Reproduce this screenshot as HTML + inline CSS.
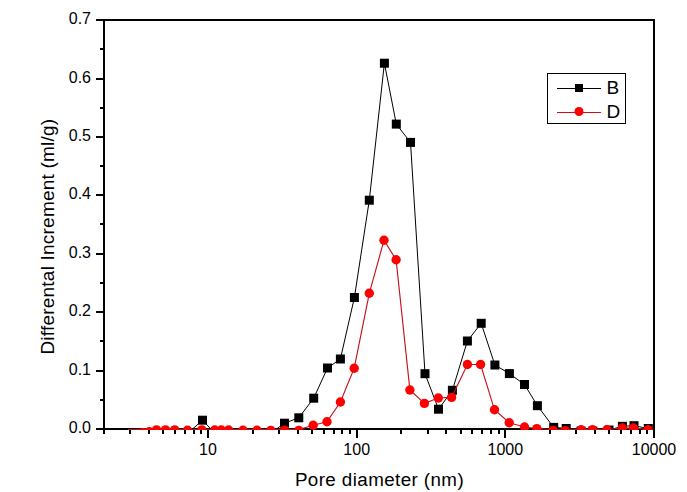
<!DOCTYPE html><html><head><meta charset="utf-8"><style>html,body{margin:0;padding:0;background:#fff;width:687px;height:492px;overflow:hidden}svg{display:block}text{font-family:"Liberation Sans",sans-serif;fill:#000}</style></head><body><svg width="687" height="492" viewBox="0 0 687 492"><defs><clipPath id="c"><rect x="104" y="20" width="550" height="410"/></clipPath></defs><g fill="#000" shape-rendering="crispEdges"><rect x="103" y="19" width="552" height="2"/><rect x="103" y="428" width="552" height="2"/><rect x="103" y="19" width="2" height="411"/><rect x="653" y="19" width="2" height="411"/><rect x="96" y="428" width="7" height="2"/><rect x="96" y="370" width="7" height="2"/><rect x="96" y="311" width="7" height="2"/><rect x="96" y="253" width="7" height="2"/><rect x="96" y="194" width="7" height="2"/><rect x="96" y="136" width="7" height="2"/><rect x="96" y="78" width="7" height="2"/><rect x="96" y="19" width="7" height="2"/><rect x="100" y="399" width="3" height="2"/><rect x="100" y="340" width="3" height="2"/><rect x="100" y="282" width="3" height="2"/><rect x="100" y="223" width="3" height="2"/><rect x="100" y="165" width="3" height="2"/><rect x="100" y="107" width="3" height="2"/><rect x="100" y="48" width="3" height="2"/><rect x="103" y="430" width="2" height="4"/><rect x="129" y="430" width="2" height="4"/><rect x="148" y="430" width="2" height="4"/><rect x="162" y="430" width="2" height="4"/><rect x="174" y="430" width="2" height="4"/><rect x="184" y="430" width="2" height="4"/><rect x="193" y="430" width="2" height="4"/><rect x="200" y="430" width="2" height="4"/><rect x="207" y="430" width="2" height="8"/><rect x="252" y="430" width="2" height="4"/><rect x="278" y="430" width="2" height="4"/><rect x="297" y="430" width="2" height="4"/><rect x="311" y="430" width="2" height="4"/><rect x="323" y="430" width="2" height="4"/><rect x="333" y="430" width="2" height="4"/><rect x="341" y="430" width="2" height="4"/><rect x="349" y="430" width="2" height="4"/><rect x="356" y="430" width="2" height="8"/><rect x="400" y="430" width="2" height="4"/><rect x="427" y="430" width="2" height="4"/><rect x="445" y="430" width="2" height="4"/><rect x="460" y="430" width="2" height="4"/><rect x="471" y="430" width="2" height="4"/><rect x="481" y="430" width="2" height="4"/><rect x="490" y="430" width="2" height="4"/><rect x="498" y="430" width="2" height="4"/><rect x="504" y="430" width="2" height="8"/><rect x="549" y="430" width="2" height="4"/><rect x="575" y="430" width="2" height="4"/><rect x="594" y="430" width="2" height="4"/><rect x="608" y="430" width="2" height="4"/><rect x="620" y="430" width="2" height="4"/><rect x="630" y="430" width="2" height="4"/><rect x="639" y="430" width="2" height="4"/><rect x="646" y="430" width="2" height="4"/><rect x="653" y="430" width="2" height="8"/></g><g font-size="16"><text x="91" y="433" text-anchor="end">0.0</text><text x="91" y="375" text-anchor="end">0.1</text><text x="91" y="316" text-anchor="end">0.2</text><text x="91" y="258" text-anchor="end">0.3</text><text x="91" y="199" text-anchor="end">0.4</text><text x="91" y="141" text-anchor="end">0.5</text><text x="91" y="83" text-anchor="end">0.6</text><text x="91" y="24" text-anchor="end">0.7</text><text x="208.0" y="455" text-anchor="middle">10</text><text x="356.7" y="455" text-anchor="middle">100</text><text x="505.3" y="455" text-anchor="middle">1000</text><text x="654.0" y="455" text-anchor="middle">10000</text></g><text x="379.5" y="485.5" font-size="18.8" letter-spacing="0.41" text-anchor="middle">Pore diameter (nm)</text><text transform="translate(53.8,236.6) rotate(-90)" font-size="19" letter-spacing="0.22" text-anchor="middle">Differental Increment (ml/g)</text><g clip-path="url(#c)"><polyline fill="none" stroke="#000" stroke-width="1" points="188,433 202.5,420.2 214.7,433 221.3,433 228.6,433 243,433 257,433 270.8,433 284.5,423.2 298.8,417.8 313.7,398.2 327.5,368 340.4,359 354.4,297.5 369.3,200.2 384.4,63.2 396.3,124.1 410.5,142.4 425,373.7 438.5,409.2 452.4,390.3 467.4,341 481.2,323.3 494.9,365 509.4,373.6 524.5,384.5 537.4,405.7 553.7,427.4 566.2,428.5 581,431 592.8,431 609,430 622.4,426.3 634,425.7 648.3,428.5"/><g fill="#000"><rect x="183.5" y="428.5" width="9.0" height="9.0"/><rect x="198.0" y="415.7" width="9.0" height="9.0"/><rect x="210.2" y="428.5" width="9.0" height="9.0"/><rect x="216.8" y="428.5" width="9.0" height="9.0"/><rect x="224.1" y="428.5" width="9.0" height="9.0"/><rect x="238.5" y="428.5" width="9.0" height="9.0"/><rect x="252.5" y="428.5" width="9.0" height="9.0"/><rect x="266.3" y="428.5" width="9.0" height="9.0"/><rect x="280.0" y="418.7" width="9.0" height="9.0"/><rect x="294.3" y="413.3" width="9.0" height="9.0"/><rect x="309.2" y="393.7" width="9.0" height="9.0"/><rect x="323.0" y="363.5" width="9.0" height="9.0"/><rect x="335.9" y="354.5" width="9.0" height="9.0"/><rect x="349.9" y="293.0" width="9.0" height="9.0"/><rect x="364.8" y="195.7" width="9.0" height="9.0"/><rect x="379.9" y="58.7" width="9.0" height="9.0"/><rect x="391.8" y="119.6" width="9.0" height="9.0"/><rect x="406.0" y="137.9" width="9.0" height="9.0"/><rect x="420.5" y="369.2" width="9.0" height="9.0"/><rect x="434.0" y="404.7" width="9.0" height="9.0"/><rect x="447.9" y="385.8" width="9.0" height="9.0"/><rect x="462.9" y="336.5" width="9.0" height="9.0"/><rect x="476.7" y="318.8" width="9.0" height="9.0"/><rect x="490.4" y="360.5" width="9.0" height="9.0"/><rect x="504.9" y="369.1" width="9.0" height="9.0"/><rect x="520.0" y="380.0" width="9.0" height="9.0"/><rect x="532.9" y="401.2" width="9.0" height="9.0"/><rect x="549.2" y="422.9" width="9.0" height="9.0"/><rect x="561.7" y="424.0" width="9.0" height="9.0"/><rect x="576.5" y="426.5" width="9.0" height="9.0"/><rect x="588.3" y="426.5" width="9.0" height="9.0"/><rect x="604.5" y="425.5" width="9.0" height="9.0"/><rect x="617.9" y="421.8" width="9.0" height="9.0"/><rect x="629.5" y="421.2" width="9.0" height="9.0"/><rect x="643.8" y="424.0" width="9.0" height="9.0"/></g><polyline fill="none" stroke="#c4121e" stroke-width="1.15" points="128,429.5 142.8,429.5 149.3,429.5 157,429.5 166,429.5 175,429.5 187.5,429.5 201.8,429.5 214.7,429.5 221.3,429.5 228.6,429.5 243,429.5 257,429.5 270.8,429.5 284.5,429.5 298.8,429.5 313.2,425.3 327,421.7 340.4,402 354.2,368.2 369.3,293.3 384,240.2 396.1,259.8 409.9,390 424.4,403.4 438.3,398 451.6,397.4 467.4,364.5 480.6,364.5 494.5,409.8 509.2,422.7 524.5,427 536.8,428.6 553.1,429.5 565.3,429.5 581.2,429.5 592.6,429.5 606.9,429.5 622.3,428 633.5,428 648.1,429.5"/><g fill="#f00"><circle cx="142.8" cy="432.6" r="4.7"/><circle cx="149.3" cy="431.6" r="4.7"/><circle cx="156.5" cy="429.9" r="4.7"/><circle cx="165.5" cy="429.9" r="4.7"/><circle cx="174.7" cy="429.9" r="4.7"/><circle cx="187.5" cy="430.3" r="4.7"/><circle cx="201.8" cy="429.9" r="4.7"/><circle cx="214.7" cy="430" r="4.7"/><circle cx="221.3" cy="430" r="4.7"/><circle cx="228.6" cy="430" r="4.7"/><circle cx="243" cy="430.2" r="4.7"/><circle cx="257" cy="430.2" r="4.7"/><circle cx="270.8" cy="430.4" r="4.7"/><circle cx="284.5" cy="430.2" r="4.7"/><circle cx="298.8" cy="430.4" r="4.7"/><circle cx="313.2" cy="425.3" r="4.7"/><circle cx="327" cy="421.7" r="4.7"/><circle cx="340.4" cy="402" r="4.7"/><circle cx="354.2" cy="368.2" r="4.7"/><circle cx="369.3" cy="293.3" r="4.7"/><circle cx="384" cy="240.2" r="4.7"/><circle cx="396.1" cy="259.8" r="4.7"/><circle cx="409.9" cy="390" r="4.7"/><circle cx="424.4" cy="403.4" r="4.7"/><circle cx="438.3" cy="398" r="4.7"/><circle cx="451.6" cy="397.4" r="4.7"/><circle cx="467.4" cy="364.5" r="4.7"/><circle cx="480.6" cy="364.5" r="4.7"/><circle cx="494.5" cy="409.8" r="4.7"/><circle cx="509.2" cy="422.7" r="4.7"/><circle cx="524.5" cy="427" r="4.7"/><circle cx="536.8" cy="428.6" r="4.7"/><circle cx="553.1" cy="430.4" r="4.7"/><circle cx="565.3" cy="430.8" r="4.7"/><circle cx="581.2" cy="429.7" r="4.7"/><circle cx="592.6" cy="429.7" r="4.7"/><circle cx="606.9" cy="429.8" r="4.7"/><circle cx="622.3" cy="428" r="4.7"/><circle cx="633.5" cy="428" r="4.7"/><circle cx="648.1" cy="429.8" r="4.7"/></g></g><rect x="547.5" y="73.5" width="78" height="50" fill="none" stroke="#000" stroke-width="1"/><line x1="557" y1="88.5" x2="601" y2="88.5" stroke="#000" stroke-width="1"/><rect x="575" y="84" width="8" height="8" fill="#000"/><line x1="557" y1="112.5" x2="601" y2="112.5" stroke="#c8101c" stroke-width="1"/><circle cx="579" cy="111.5" r="4.5" fill="#f00"/><text x="606.5" y="93.5" font-size="19">B</text><text x="606.5" y="117.5" font-size="19">D</text></svg></body></html>
